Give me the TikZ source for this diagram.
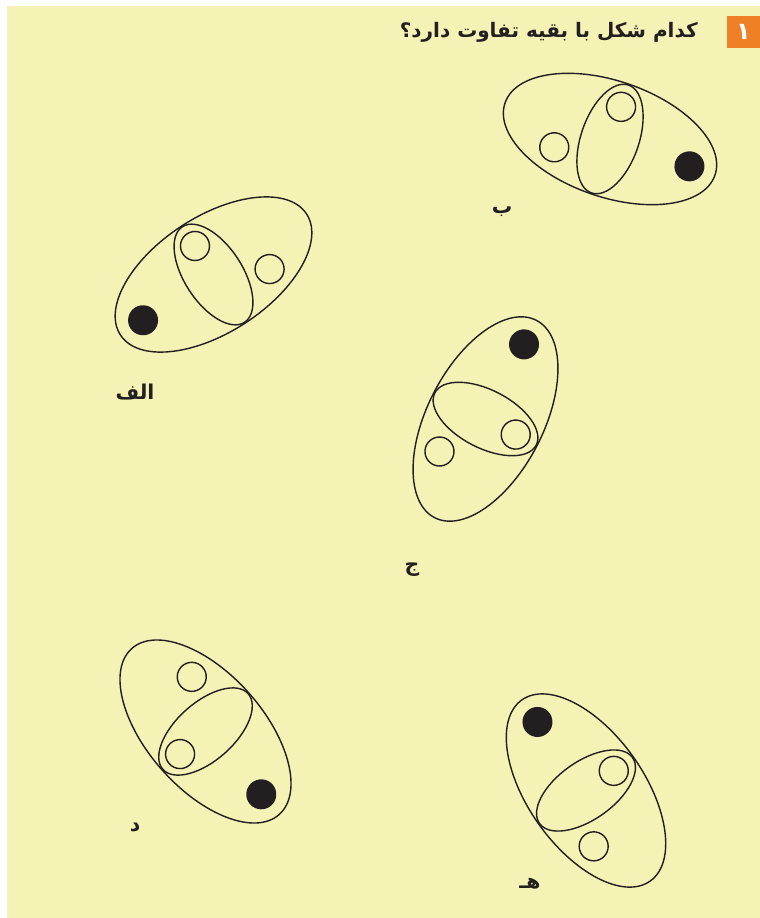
\documentclass[tikz,border=0pt]{standalone}
\usepackage{fontspec}
\newfontfamily\arabicfont[Script=Arabic]{DejaVu Sans}
\TeXXeTstate=1
\usetikzlibrary{positioning}
\definecolor{pagebg}{RGB}{245,242,182}
\definecolor{numorange}{RGB}{240,128,38}
\definecolor{ink}{RGB}{35,31,32}

\begin{document}
\begin{tikzpicture}[
    x=0.025cm, y=0.025cm,
    outline/.style={draw=ink, line width=1pt},
    dot/.style={fill=ink},
    tag/.style={font=\arabicfont\bfseries\fontsize{14.5}{17}\selectfont, text=ink, inner sep=0pt},
    question/.style={font=\arabicfont\bfseries\fontsize{14.2}{17}\selectfont, text=ink, inner sep=0pt},
    numtag/.style={fill=numorange, text=white, minimum width=0.825cm, minimum height=0.8cm, inner sep=0pt, font=\arabicfont\bfseries\fontsize{17}{19}\selectfont},
    cell/.pic={
        \draw[outline] (0,0) ellipse [x radius=111, y radius=58];
        \draw[outline] (0,0) ellipse [x radius=29, y radius=57];
        \fill[dot] (84,0) circle [radius=15];
        \draw[outline] (0,-34) circle [radius=14.5];
        \draw[outline] (-50,26) circle [radius=14.5];
    }
]
\useasboundingbox (0,0) rectangle (760,-918);
\fill[pagebg] (7,-6) rectangle (760,-918);

% heading
\node[numtag] (qnum) at (743.5,-32) {\beginR ۱\endR};
\node[question, anchor=base east] (qtext) at (698,-38) {\beginR کدام شکل با بقیه تفاوت دارد؟\endR};

% the five shapes
\pic[shift={(213.5,-274.5)}, rotate=-147] {cell};
\pic[shift={(610,-139)}, rotate=-19, yscale=-1] {cell};
\pic[shift={(485.5,-419)}, rotate=62.7] {cell};
\pic[shift={(205.5,-731.5)}, rotate=-48.4] {cell};
\pic[shift={(586,-790.5)}, rotate=125.3] {cell};

% labels
\node[tag] (lblalef) at (135,-392) {\beginR الف\endR};
\node[tag] (lblbe) at (502,-212) {\beginR ب\endR};
\node[tag] (lbljim) at (412,-570) {\beginR ج\endR};
\node[tag] (lbldal) at (135,-828) {\beginR د\endR};
\node[tag] (lblhe) at (530,-884) {\beginR هـ\endR};
\end{tikzpicture}
\end{document}
